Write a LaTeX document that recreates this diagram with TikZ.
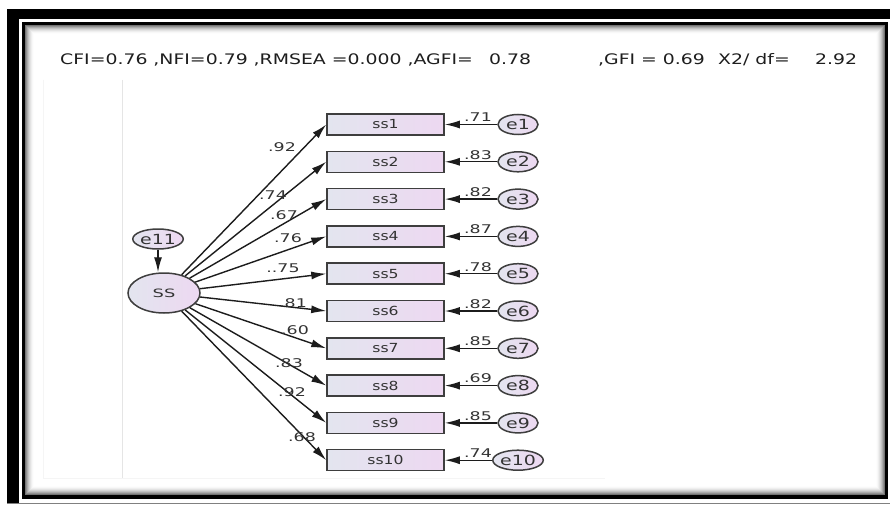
\documentclass[tikz,border=0pt]{standalone}
\usepackage{fontspec}
\setmainfont{DejaVu Sans}
\usepackage{graphicx}
\usetikzlibrary{arrows.meta,shapes.geometric}
\definecolor{lineC}{HTML}{1C1C1C}
\definecolor{txtC}{HTML}{333333}
\definecolor{headC}{HTML}{1E1E1E}
\definecolor{fillL}{HTML}{E3E5EF}
\definecolor{fillR}{HTML}{EDD8F1}
\newcommand\hs[2][1.35]{\scalebox{#1}[1]{#2}}
\tikzset{
 obs/.style={draw=lineC!85, line width=1.5pt, rectangle, minimum width=117pt, minimum height=21pt, inner sep=0pt,
   left color=fillL, right color=fillR, font=\fontsize{12.5}{12.5}\selectfont, text=txtC},
 err/.style={draw=lineC!85, line width=1.5pt, ellipse, minimum width=40pt, minimum height=20pt, inner sep=0pt,
   left color=fillL, right color=fillR, font=\fontsize{14}{14}\selectfont, text=txtC},
 lat/.style={draw=lineC!85, line width=1.5pt, ellipse, minimum width=72pt, minimum height=40pt, inner sep=0pt,
   left color=fillL, right color=fillR, font=\fontsize{11.5}{11.5}\selectfont, text=txtC},
 pth/.style={draw=lineC, line width=1.4pt, -{Latex[length=15pt,width=8pt]}},
 coef/.style={font=\fontsize{12}{12}\selectfont, text=txtC, inner sep=0pt},
 head/.style={font=\fontsize{14.5}{14.5}\selectfont, text=headC, inner sep=0pt, anchor=base west},
}
\begin{document}
\begin{tikzpicture}[x=1pt,y=-1pt]
\useasboundingbox (0,0) rectangle (890,505);
% outer frame
\fill[black] (7,9) rectangle (890,19);
\fill[black] (7,9) rectangle (19,503);
\draw[gray,line width=1pt] (7,503.5) -- (890,503.5);
% inner frame
\fill[black] (22,22) rectangle (888,499);
\fill[white] (25,25) rectangle (885,495);
\foreach \i in {0,...,8}{
  \pgfmathsetmacro\k{55*(1-\i/9)^2}
  \draw[black!\k,line width=1pt] ({25.5+\i},{25.5+\i}) rectangle ({884.5-\i},{494.5-\i});
}
% faint guide lines
\draw[black!10,line width=0.8pt] (122,80) -- (122,478);
\draw[black!4,line width=0.8pt] (43,80) -- (43,478) -- (605,478);
% header
\node[head] (h1) at (60,64.5) {\hs[1.3]{CFI=0.76 ,NFI=0.79 ,RMSEA =0.000 ,AGFI=}};
\node[head] (h2) at (489,64.5) {\hs[1.3]{0.78}};
\node[head] (h3) at (598,64.5) {\hs[1.3]{,GFI = 0.69}};
\node[head] (h4) at (718,64.5) {\hs[1.3]{X2/ df=}};
\node[head] (h5) at (815,64.5) {\hs[1.3]{2.92}};
% latent
\node[lat] (SS) at (164,293) {\hs[1.55]{SS}};
\node[err] (e11) at (158,239) {\hs{e11}};
\draw[pth] (e11) -- (e11 |- SS.north);
% indicators
\foreach \i/\a/\ax/\ay/\b in {1/.92/282/147/.71, 2/.74/273/195/.83, 3/.67/284/215/.82, 4/.76/288/238/.87,
  5/..75/283/268/.78, 6/.81/293/303/.82, 7/.60/295/330/.85, 8/.83/289/363/.69, 9/.92/292/392/.85, 10/.68/302/437/.74}{
  \pgfmathsetmacro\yy{124.5+37.3*(\i-1)}
  \node[obs] (ss\i) at (385.5,\yy) {\hs[1.25]{ss\i}};
  \node[err] (e\i) at (518,\yy) {\hs{e\i}};
  \draw[pth] (e\i) -- (ss\i.east);
  \draw[pth] (SS) -- (ss\i.west);
  \node[coef] (l\i) at (\ax,\ay) {\hs[1.45]{\a}};
  \node[coef] (r\i) at (478,\yy-7) {\hs[1.45]{\b}};
}
\end{tikzpicture}
\end{document}
